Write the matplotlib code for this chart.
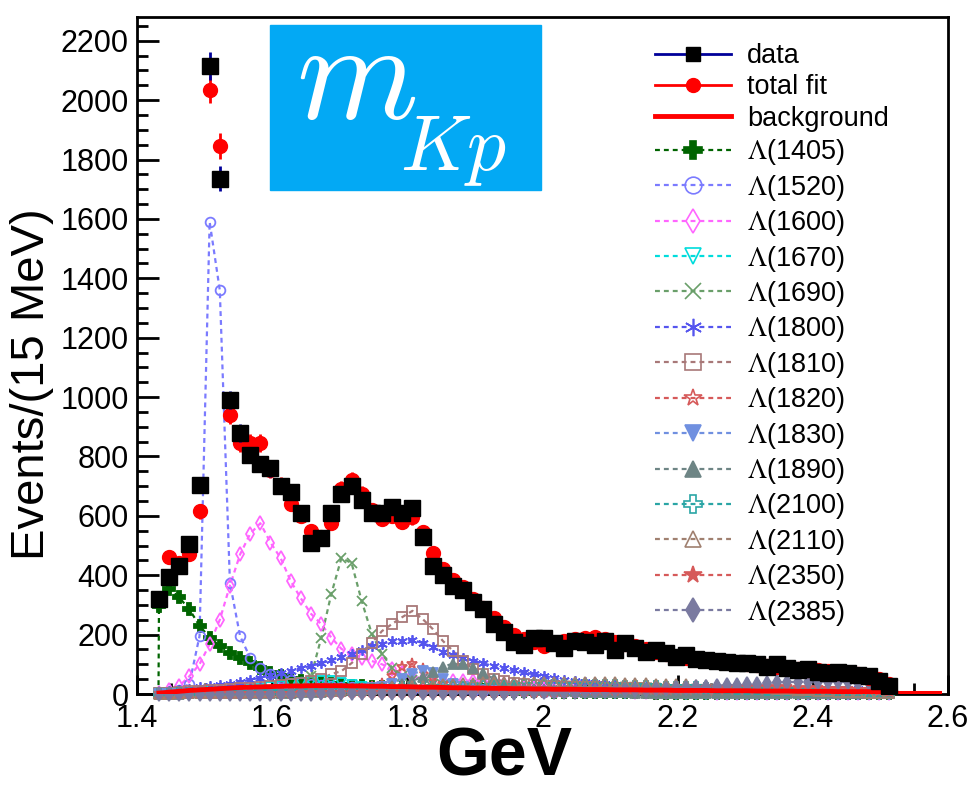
import numpy as np
import matplotlib
matplotlib.use('Agg')
import matplotlib.pyplot as plt
from matplotlib.lines import Line2D
from matplotlib.patches import Rectangle
from matplotlib.ticker import MultipleLocator

plt.rcParams['font.family'] = ['Liberation Sans', 'DejaVu Sans']
plt.rcParams['mathtext.fontset'] = 'stix'

# 15 MeV bins above the Kp threshold
mass = 1.4325 + 0.015 * np.arange(73)
bg_mass = 1.4325 + 0.015 * np.arange(78)
threshold = 1.4318

data = [320, 395, 430, 505, 705, 2115, 1735, 990, 880, 805,
        775, 760, 700, 680, 610, 510, 525, 610, 675, 700,
        655, 610, 610, 630, 610, 625, 530, 430, 400, 365,
        350, 310, 285, 235, 210, 175, 165, 190, 188, 172,
        155, 180, 175, 165, 180, 148, 172, 155, 140, 148,
        138, 125, 130, 118, 115, 110, 108, 105, 104, 100,
        92, 100, 88, 80, 85, 75, 72, 75, 70, 65,
        62, 45, 28]

total_fit = [320, 460, 440, 470, 615, 2035, 1845, 940, 845, 845,
             845, 755, 705, 640, 600, 550, 530, 575, 690, 720,
             675, 620, 590, 600, 580, 595, 545, 475, 420, 385,
             360, 320, 290, 255, 225, 200, 185, 175, 160, 172,
             180, 185, 190, 192, 185, 175, 168, 160, 150, 140,
             135, 125, 120, 118, 115, 112, 108, 105, 100, 98,
             95, 92, 88, 85, 82, 80, 76, 72, 70, 68,
             55, 52, 35]

background = [3, 6, 9, 12, 14, 16, 18, 20, 22, 23,
              24, 25, 26, 27, 27, 28, 28, 28, 28, 27,
              27, 26, 26, 25, 25, 24, 23, 23, 22, 21,
              21, 20, 20, 19, 19, 18, 18, 17, 17, 16,
              16, 16, 15, 15, 15, 14, 14, 14, 13, 13,
              13, 12, 12, 12, 12, 11, 11, 11, 11, 10,
              10, 10, 10, 9, 9, 9, 9, 8, 8, 8,
              8, 7, 7, 2, 2, 2, 2, 2]

l1405 = [295, 355, 325, 285, 230, 190, 162, 138, 120, 104,
         88, 72, 62, 52, 45, 40, 36, 33, 30, 28,
         26, 24, 22, 20, 19, 18, 17, 16, 15, 14,
         13, 12, 12, 11, 11, 10, 10, 9, 9, 8,
         8, 8, 7, 7, 7, 6, 6, 6, 6, 5,
         5, 5, 5, 5, 4, 4, 4, 4, 4, 4,
         3, 3, 3, 3, 3, 3, 3, 3, 3, 2,
         2, 2, 2]
l1520 = [4, 8, 15, 34, 195, 1590, 1360, 375, 195, 122,
         88, 68, 55, 46, 40, 35, 31, 28, 25, 23,
         21, 19, 18, 17, 16, 15, 14, 13, 13, 12,
         12, 11, 11, 10, 10, 9, 9, 9, 8, 8,
         8, 7, 7, 7, 7, 6, 6, 6, 6, 5,
         5, 5, 5, 5, 5, 4, 4, 4, 4, 4,
         4, 4, 3, 3, 3, 3, 3, 3, 3, 3,
         2, 2, 2]
l1600 = [5, 12, 27, 60, 100, 168, 250, 365, 470, 540,
         575, 510, 458, 380, 322, 270, 236, 190, 152, 135,
         121, 111, 100, 85, 70, 60, 52, 48, 45, 45,
         45, 45, 42, 40, 35, 30, 25, 20, 18, 15,
         13, 12, 11, 10, 10, 9, 9, 8, 8, 7,
         7, 7, 6, 6, 6, 5, 5, 5, 5, 4,
         4, 4, 4, 4, 3, 3, 3, 3, 3, 3,
         2, 2, 2]
l1670 = [2, 2, 3, 4, 5, 6, 8, 10, 12, 15,
         18, 22, 27, 32, 37, 42, 45, 44, 38, 30,
         24, 18, 14, 11, 9, 7, 6, 5, 5, 4,
         4, 4, 3, 3, 3, 3, 3, 3, 3, 2,
         2, 2, 2, 2, 2, 2, 2, 2, 2, 2,
         2, 1, 1, 1, 1, 1, 1, 1, 1, 1,
         1, 1, 1, 1, 1, 1, 1, 1, 1, 1,
         1, 1, 1]
l1690 = [2, 2, 3, 3, 4, 4, 5, 6, 7, 8,
         9, 11, 13, 16, 22, 60, 188, 337, 458, 441,
         313, 202, 135, 88, 62, 48, 40, 34, 30, 27,
         24, 22, 20, 18, 16, 15, 14, 13, 12, 11,
         10, 9, 9, 8, 8, 7, 7, 6, 6, 6,
         5, 5, 5, 5, 4, 4, 4, 4, 4, 3,
         3, 3, 3, 3, 3, 3, 2, 2, 2, 2,
         2, 2, 2]
l1800 = [8, 11, 14, 18, 22, 26, 30, 35, 41, 48,
         55, 63, 71, 79, 87, 95, 104, 114, 124, 135,
         148, 160, 170, 177, 180, 182, 172, 158, 140, 132,
         122, 112, 103, 94, 87, 80, 73, 66, 60, 53,
         48, 44, 40, 36, 33, 30, 28, 26, 25, 24,
         23, 22, 22, 21, 21, 20, 20, 20, 19, 19,
         19, 18, 18, 18, 17, 17, 17, 16, 16, 16,
         15, 15, 15]
l1810 = [3, 5, 7, 9, 11, 13, 15, 17, 19, 21,
         23, 26, 29, 33, 38, 44, 52, 67, 77, 104,
         135, 172, 212, 236, 259, 280, 253, 219, 179, 145,
         111, 85, 66, 52, 43, 37, 33, 30, 28, 26,
         25, 24, 23, 22, 21, 20, 19, 18, 17, 16,
         15, 14, 13, 12, 12, 11, 10, 10, 9, 9,
         8, 8, 7, 7, 7, 6, 6, 6, 5, 5,
         5, 4, 4]
l1820 = [1, 1, 1, 2, 2, 2, 2, 3, 3, 3,
         4, 4, 5, 5, 6, 7, 8, 9, 11, 13,
         16, 22, 35, 60, 90, 102, 85, 55, 33, 22,
         16, 12, 10, 8, 7, 6, 6, 5, 5, 5,
         4, 4, 4, 4, 3, 3, 3, 3, 3, 3,
         2, 2, 2, 2, 2, 2, 2, 2, 2, 2,
         2, 1, 1, 1, 1, 1, 1, 1, 1, 1,
         1, 1, 1]
l1830 = [1, 1, 1, 1, 2, 2, 2, 2, 3, 3,
         3, 4, 4, 5, 5, 6, 7, 8, 10, 12,
         15, 19, 25, 35, 50, 68, 78, 70, 52, 35,
         24, 17, 13, 10, 8, 7, 6, 5, 5, 4,
         4, 4, 3, 3, 3, 3, 3, 2, 2, 2,
         2, 2, 2, 2, 2, 2, 2, 1, 1, 1,
         1, 1, 1, 1, 1, 1, 1, 1, 1, 1,
         1, 1, 1]
l1890 = [1, 1, 1, 2, 2, 2, 2, 3, 3, 3,
         4, 4, 5, 5, 6, 7, 8, 9, 11, 13,
         15, 18, 22, 27, 34, 44, 58, 75, 92, 102,
         100, 88, 70, 52, 38, 28, 21, 17, 14, 12,
         10, 9, 8, 7, 7, 6, 6, 5, 5, 5,
         4, 4, 4, 4, 3, 3, 3, 3, 3, 3,
         2, 2, 2, 2, 2, 2, 2, 2, 2, 2,
         2, 2, 2]
l2100 = [1, 1, 2, 2, 3, 3, 4, 4, 5, 5,
         6, 6, 7, 8, 9, 10, 11, 12, 13, 14,
         15, 16, 17, 18, 19, 20, 21, 22, 23, 24,
         25, 26, 27, 27, 28, 28, 29, 29, 30, 30,
         30, 30, 30, 30, 29, 29, 28, 28, 27, 26,
         25, 24, 23, 22, 21, 20, 19, 18, 17, 16,
         15, 14, 13, 12, 11, 10, 9, 8, 7, 6,
         5, 4, 3]
l2110 = [1, 1, 2, 2, 3, 3, 4, 4, 5, 6,
         7, 8, 9, 10, 11, 12, 13, 14, 15, 16,
         17, 18, 20, 22, 24, 26, 28, 30, 32, 34,
         36, 38, 39, 40, 41, 42, 42, 42, 42, 42,
         42, 41, 41, 40, 40, 39, 38, 37, 36, 35,
         34, 33, 32, 31, 30, 29, 28, 26, 24, 22,
         20, 18, 16, 14, 12, 10, 9, 8, 7, 6,
         5, 4, 3]
l2350 = [0, 0, 0, 1, 1, 1, 1, 1, 1, 1,
         1, 1, 1, 1, 2, 2, 2, 2, 2, 2,
         2, 2, 3, 3, 3, 3, 3, 3, 4, 4,
         4, 4, 5, 5, 5, 6, 6, 7, 7, 8,
         8, 9, 9, 10, 10, 11, 12, 12, 13, 14,
         15, 16, 17, 18, 19, 20, 21, 22, 22, 22,
         22, 22, 22, 21, 20, 19, 18, 17, 16, 14,
         12, 10, 8]
l2385 = [0, 0, 0, 0, 0, 1, 1, 1, 1, 1,
         1, 1, 1, 1, 1, 1, 2, 2, 2, 2,
         2, 2, 2, 2, 3, 3, 3, 3, 3, 3,
         4, 4, 4, 5, 5, 5, 6, 6, 7, 7,
         8, 8, 9, 10, 11, 12, 13, 14, 15, 16,
         18, 19, 21, 23, 25, 27, 29, 31, 33, 35,
         37, 39, 40, 41, 42, 42, 42, 41, 40, 38,
         36, 33, 30]

# label, values, colour, marker, filled, marker size
components = [
    (r'$\Lambda$(1405)', l1405, '#006400', 'P', True, 8.5),
    (r'$\Lambda$(1520)', l1520, '#7b7bff', 'o', False, 7),
    (r'$\Lambda$(1600)', l1600, '#ff66ff', 'd', False, 7.5),
    (r'$\Lambda$(1670)', l1670, '#00dcdc', 'v', False, 7),
    (r'$\Lambda$(1690)', l1690, '#6a9f6a', 'x', False, 7),
    (r'$\Lambda$(1800)', l1800, '#5555ee', (6, 2, 0), False, 7.5),
    (r'$\Lambda$(1810)', l1810, '#a87878', 's', False, 7),
    (r'$\Lambda$(1820)', l1820, '#d65a5a', '*', False, 8),
    (r'$\Lambda$(1830)', l1830, '#7090e0', 'v', True, 7),
    (r'$\Lambda$(1890)', l1890, '#6e8585', '^', True, 7),
    (r'$\Lambda$(2100)', l2100, '#2aa5a5', 'P', False, 7.5),
    (r'$\Lambda$(2110)', l2110, '#a08070', '^', False, 7),
    (r'$\Lambda$(2350)', l2350, '#d65a5a', '*', True, 8),
    (r'$\Lambda$(2385)', l2385, '#7a7aa0', 'd', True, 7.5),
]

fig = plt.figure(figsize=(9.71, 7.89), dpi=100)
ax = fig.add_axes([137 / 971, 95 / 789, 811 / 971, 677 / 789])

handles = []
labels = []

data_h = Line2D([], [], color='#000099', lw=2, marker='s', mfc='black', mec='black', ms=10)
fit_h = Line2D([], [], color='red', lw=2, marker='o', mfc='red', mec='red', ms=10)
bg_h = Line2D([], [], color='red', lw=3.5)
handles += [data_h, fit_h, bg_h]
labels += ['data', 'total fit', 'background']

for lab, vals, col, mk, filled, msz in components:
    y = np.array(vals, dtype=float)
    ax.plot(np.r_[threshold, mass], np.r_[0, y], color=col, lw=1.6,
            ls=(0, (2.2, 1.8)), zorder=2)
    ax.plot(mass, y, ls='none', marker=mk, ms=msz, mec=col,
            mfc=col if filled else 'none', mew=1.3, clip_on=False, zorder=3)
    handles.append(Line2D([], [], color=col, lw=1.6, ls=(0, (2.2, 1.8)), marker=mk,
                          ms=msz + 5, mec=col, mfc=col if filled else 'none', mew=1.2))
    labels.append(lab)

ax.plot(bg_mass, background, color='red', lw=3.5, zorder=4)

fit = np.array(total_fit, dtype=float)
ax.errorbar(mass, fit, yerr=np.sqrt(fit), fmt='o', color='red', ms=10,
            elinewidth=2, capsize=0, zorder=5)
d = np.array(data, dtype=float)
ax.errorbar(mass, d, yerr=np.sqrt(d), fmt='s', mfc='black', mec='black',
            ecolor='#000099', ms=11, elinewidth=2, capsize=0, zorder=6)

ax.set_xlim(1.4, 2.6)
ax.set_ylim(0, 2280)
ax.xaxis.set_major_locator(MultipleLocator(0.2))
ax.xaxis.set_minor_locator(MultipleLocator(0.05))
ax.yaxis.set_major_locator(MultipleLocator(200))
ax.yaxis.set_minor_locator(MultipleLocator(50))
ax.xaxis.set_major_formatter(plt.FuncFormatter(lambda v, p: f'{v:g}'))
ax.tick_params(axis='both', which='both', direction='in', top=False, right=False,
               labelsize=22, width=2)
ax.tick_params(axis='y', which='major', length=16, pad=6)
ax.tick_params(axis='y', which='minor', length=8)
ax.tick_params(axis='x', which='major', length=14, pad=7)
ax.tick_params(axis='x', which='minor', length=8)
for s in ax.spines.values():
    s.set_linewidth(2)

fig.text(32 / 971, 1 - 384 / 789, 'Events/(15 MeV)', rotation=90,
         ha='center', va='center', fontsize=34)
fig.text(504 / 971, 0.0, 'GeV', ha='center', va='bottom',
         fontsize=49, fontweight='bold')

# blue label box
fig.patches.append(Rectangle((270 / 971, 1 - 190 / 789), 271 / 971, 165 / 789,
                             transform=fig.transFigure, color='#03a9f4', zorder=10))
fig.text(296 / 971, 1 - 118 / 789, r'$m$', ha='left', va='baseline',
         fontsize=100, color='white', math_fontfamily='cm', zorder=11)
fig.text(400 / 971, 1 - 170 / 789, r'$Kp$', ha='left', va='baseline',
         fontsize=56, color='white', math_fontfamily='cm', zorder=11)

fig.legend(handles, labels, loc='upper left', bbox_to_anchor=(655 / 971, 1 - 43 / 789),
           frameon=False, fontsize=19.5, handlelength=2.8, handletextpad=0.6,
           labelspacing=0.2, borderaxespad=0, borderpad=0)

fig.savefig('out.png', dpi=100)
